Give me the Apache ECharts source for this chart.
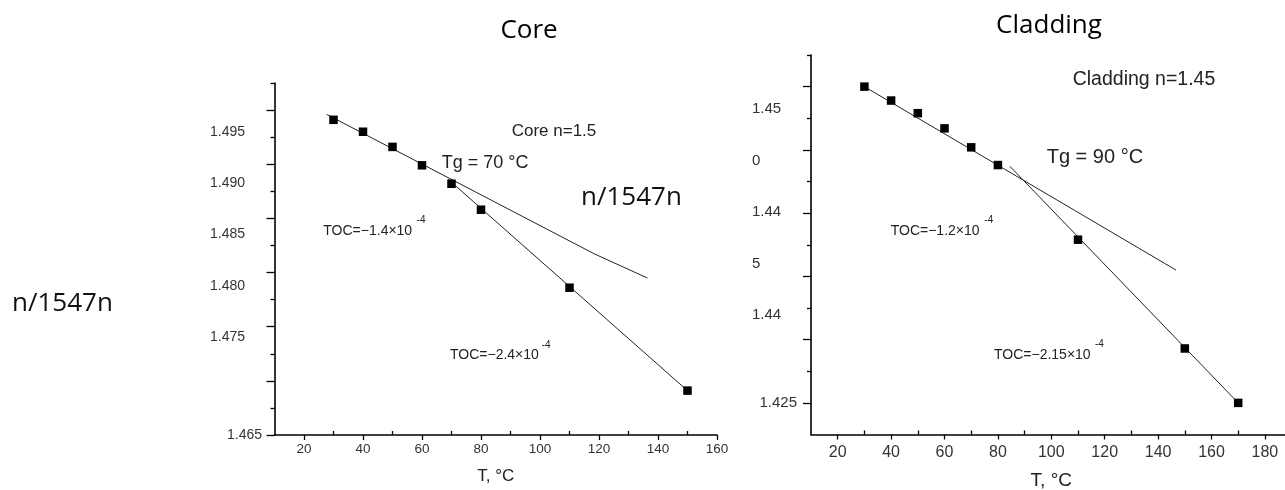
<!DOCTYPE html>
<html>
<head>
<meta charset="utf-8">
<script src="https://cdn.jsdelivr.net/npm/echarts@6/dist/echarts.min.js"></script>
<style>
html,body{margin:0;padding:0;background:#fff;}
#c{width:1285px;height:490px;}
</style>
</head>
<body>
<div id="c"></div>
<script>
// ---------- data ----------
// Core (left panel)
const coreT = [30, 40, 50, 60, 70, 80, 110, 150];
const coreN = [1.4941, 1.4930, 1.4916, 1.4899, 1.4882, 1.4858, 1.4786, 1.4691];
const coreFit1T = [27.7, 118.6, 136.4];
const coreFit1N = [1.4946, 1.4817, 1.4795];
const coreFit2T = [68.9, 150.8];
const coreFit2N = [1.4886, 1.4689];
const coreXTicks = [10, 20, 30, 40, 50, 60, 70, 80, 90, 100, 110, 120, 130, 140, 150, 160];
const coreYTicks = [1.465, 1.4675, 1.47, 1.4725, 1.475, 1.4775, 1.48, 1.4825, 1.485, 1.4875, 1.49, 1.4925, 1.495, 1.4975];
const coreYLabels = ['1.495', '1.490', '1.485', '1.480', '1.475'];

// Cladding (right panel)
const cladT = [30, 40, 50, 60, 70, 80, 110, 150, 170];
const cladN = [1.4500, 1.4489, 1.4479, 1.4467, 1.4452, 1.4438, 1.4379, 1.4293, 1.4250];
const cladFit1T = [30, 146.7];
const cladFit1N = [1.4500, 1.4355];
const cladFit2T = [84.5, 170];
const cladFit2N = [1.4437, 1.4250];
const cladXTicks = [10, 20, 30, 40, 50, 60, 70, 80, 90, 100, 110, 120, 130, 140, 150, 160, 170, 180, 190];
const cladYTicks = [1.4225, 1.425, 1.4275, 1.43, 1.4325, 1.435, 1.4375, 1.44, 1.4425, 1.445, 1.4475, 1.45, 1.4525];
const cladYLabels = ['1.45', '0', '1.44', '5', '1.44'];

// ---------- helpers ----------
const zip = (a, b) => a.map((v, i) => [v, b[i]]);
const SANS = '"Liberation Sans", Arial, sans-serif';
const TITLEF = '"Open Sans", "Noto Sans", sans-serif';
const LBL = '#333';

function majorX(gridIndex, data, fontSize, margin, nameSize, nameGap) {
  return {
    type: 'category', gridIndex, data, boundaryGap: false, position: 'bottom',
    axisLine: {show: true, onZero: false, lineStyle: {color: '#000', width: 1.6}},
    axisTick: {show: true, inside: false, length: 5, lineStyle: {color: '#000', width: 1.3},
      interval: (i, v) => Number(v) % 20 === 0},
    axisLabel: {show: true, interval: (i, v) => Number(v) % 20 === 0 && Number(v) < 190,
      color: LBL, fontSize, fontFamily: SANS, margin},
    splitLine: {show: false},
    name: 'T, °C', nameLocation: 'middle', nameGap,
    nameTextStyle: {color: '#222', fontSize: nameSize, fontFamily: SANS}
  };
}
function minorX(gridIndex, data) {
  return {
    type: 'category', gridIndex, data, boundaryGap: false, position: 'bottom',
    axisLine: {show: false, onZero: false},
    axisTick: {show: true, inside: true, length: 4, lineStyle: {color: '#000', width: 1.3},
      interval: (i, v) => Number(v) % 20 === 10 && i > 0},
    axisLabel: {show: false}, splitLine: {show: false}
  };
}
function majorY(gridIndex, data, parity, labelIdx, fontSize, margin, shift) {
  return {
    type: 'category', gridIndex, data, boundaryGap: false, position: 'left',
    axisLine: {show: true, onZero: false, lineStyle: {color: '#000', width: 1.6}},
    axisTick: {show: true, inside: false, length: 8, lineStyle: {color: '#000', width: 1.3},
      interval: (i) => i % 2 === parity},
    axisLabel: {show: true, interval: (i) => i === labelIdx, color: LBL, fontSize, fontFamily: SANS,
      margin, padding: [0, 0, shift * 2, 0], formatter: (v) => Number(v).toFixed(3)},
    splitLine: {show: false}
  };
}
function minorY(gridIndex, data, parity) {
  return {
    type: 'category', gridIndex, data, boundaryGap: false, position: 'left',
    axisLine: {show: false, onZero: false},
    axisTick: {show: true, inside: false, length: 4, lineStyle: {color: '#000', width: 1.3},
      interval: (i) => i % 2 === parity && i > 0},
    axisLabel: {show: false}, splitLine: {show: false}
  };
}
function hiddenVal(gridIndex, min, max) {
  return {type: 'value', gridIndex, min, max, show: false, splitLine: {show: false}};
}
function labelY(gridIndex, data, align, fontSize, margin) {
  return {
    type: 'category', gridIndex, data, boundaryGap: false, inverse: true, position: 'left',
    axisLine: {show: false}, axisTick: {show: false}, splitLine: {show: false},
    axisLabel: {show: true, interval: 0, align, color: LBL, fontSize, fontFamily: SANS, margin}
  };
}
function txt(x, y, text, size, font, color, align) {
  return {type: 'text', x, y, silent: true,
    style: {text, fontSize: size, fontFamily: font, fill: color || '#000', align: align || 'left', verticalAlign: 'middle'}};
}

const G = {outerBoundsMode: 'none', containLabel: false};
const option = {
  animation: false,
  backgroundColor: '#fff',
  grid: [
    Object.assign({left: 274.5, top: 83, width: 442.5, height: 352}, G),
    Object.assign({left: 274.5, top: 132, width: 442.5, height: 205}, G),
    Object.assign({left: 811, top: 55, width: 480.6, height: 379.5}, G),
    Object.assign({left: 811, top: 109, width: 480.6, height: 206}, G)
  ],
  xAxis: [
    majorX(0, coreXTicks, 13.5, 7, 17, 33),
    minorX(0, coreXTicks),
    hiddenVal(0, coreXTicks[0], coreXTicks[coreXTicks.length - 1]),
    hiddenVal(1, 0, 1),
    majorX(2, cladXTicks, 16, 10.5, 19, 37),
    minorX(2, cladXTicks),
    hiddenVal(2, cladXTicks[0], cladXTicks[cladXTicks.length - 1]),
    hiddenVal(3, 0, 1)
  ],
  yAxis: [
    majorY(0, coreYTicks, 0, 0, 14, 12.5, 5),
    minorY(0, coreYTicks, 1),
    hiddenVal(0, coreYTicks[0], coreYTicks[coreYTicks.length - 1]),
    labelY(1, coreYLabels, 'right', 14, 29.5),
    majorY(2, cladYTicks, 1, 1, 15, 14, 11),
    minorY(2, cladYTicks, 0),
    hiddenVal(2, cladYTicks[0], cladYTicks[cladYTicks.length - 1]),
    labelY(3, cladYLabels, 'left', 15, 59)
  ],
  series: [
    {type: 'line', xAxisIndex: 2, yAxisIndex: 2, data: zip(coreFit1T, coreFit1N), symbol: 'none',
      lineStyle: {color: '#222', width: 1}, silent: true, clip: false, z: 2},
    {type: 'line', xAxisIndex: 2, yAxisIndex: 2, data: zip(coreFit2T, coreFit2N), symbol: 'none',
      lineStyle: {color: '#222', width: 1}, silent: true, clip: false, z: 2},
    {type: 'scatter', xAxisIndex: 2, yAxisIndex: 2, data: zip(coreT, coreN), symbol: 'rect', symbolSize: 8.5,
      itemStyle: {color: '#000', opacity: 1}, silent: true, clip: false, z: 3},
    {type: 'line', xAxisIndex: 6, yAxisIndex: 6, data: zip(cladFit1T, cladFit1N), symbol: 'none',
      lineStyle: {color: '#222', width: 1}, silent: true, clip: false, z: 2},
    {type: 'line', xAxisIndex: 6, yAxisIndex: 6, data: zip(cladFit2T, cladFit2N), symbol: 'none',
      lineStyle: {color: '#222', width: 1}, silent: true, clip: false, z: 2},
    {type: 'scatter', xAxisIndex: 6, yAxisIndex: 6, data: zip(cladT, cladN), symbol: 'rect', symbolSize: 8.5,
      itemStyle: {color: '#000', opacity: 1}, silent: true, clip: false, z: 3}
  ],
  graphic: [
    txt(529, 31, 'Core', 26, TITLEF, '#000', 'center'),
    txt(1049, 26, 'Cladding', 26, TITLEF, '#000', 'center'),
    txt(12, 304, 'n/1547n', 26, TITLEF, '#111'),
    txt(581, 198, 'n/1547n', 26, TITLEF, '#111'),
    txt(511.7, 131.5, 'Core n=1.5', 17, SANS, '#222'),
    txt(441.7, 163, 'Tg = 70 °C', 18, SANS, '#222'),
    txt(323.3, 231, 'TOC=−1.4×10', 14, SANS, '#222'),
    txt(416.7, 220, '-4', 10, SANS, '#222'),
    txt(450, 355, 'TOC=−2.4×10', 14, SANS, '#222'),
    txt(541.7, 345, '-4', 10, SANS, '#222'),
    txt(1072.7, 80, 'Cladding n=1.45', 19.5, SANS, '#222'),
    txt(1046.7, 157, 'Tg = 90 °C', 20, SANS, '#222'),
    txt(890.7, 231, 'TOC=−1.2×10', 14, SANS, '#222'),
    txt(984.3, 220, '-4', 10, SANS, '#222'),
    txt(994, 355, 'TOC=−2.15×10', 14, SANS, '#222'),
    txt(1095, 344, '-4', 10, SANS, '#222')
  ]
};
const chart = echarts.init(document.getElementById('c'), null, {renderer: 'canvas'});
chart.setOption(option);
</script>
</body>
</html>
